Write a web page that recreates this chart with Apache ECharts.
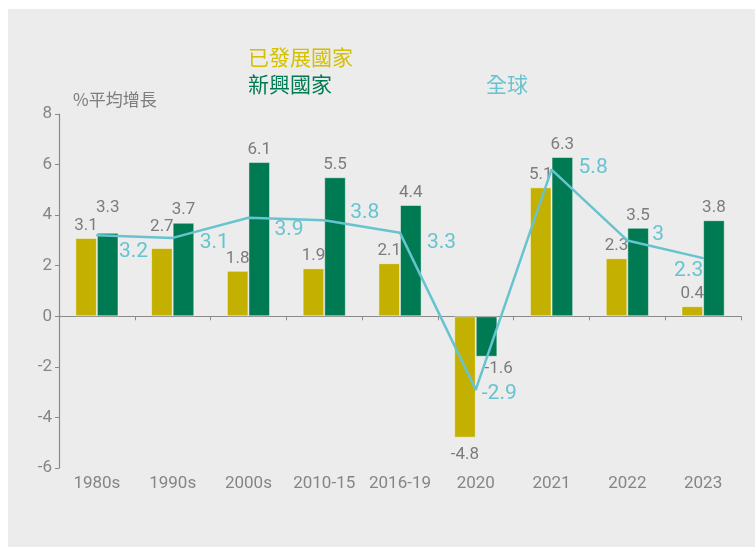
<!DOCTYPE html>
<html>
<head>
  <meta charset="utf-8">
  <title>經濟增長</title>
  <script src="https://cdn.jsdelivr.net/npm/echarts@6/dist/echarts.min.js"></script>
  <style>
    html, body { margin: 0; padding: 0; background: #fff; }
  </style>
</head>
<body>
  <div id="main" style="width: 755px;height:549px;"></div>
  <script type="text/javascript">
    // 數據
    var categories = ['1980s', '1990s', '2000s', '2010-15', '2016-19', '2020', '2021', '2022', '2023'];
    var developed = [3.1, 2.7, 1.8, 1.9, 2.1, -4.8, 5.1, 2.3, 0.4];
    var emerging = [3.3, 3.7, 6.1, 5.5, 4.4, -1.6, 6.3, 3.5, 3.8];
    var world = [3.2, 3.1, 3.9, 3.8, 3.3, -2.9, 5.8, 3, 2.3];

    // 標籤微調 (px)
    var devShift = [[0, 0], [0, -9], [0, 0], [0, 0], [0, 0], [0, 5], [0, 0], [0, 0], [0, 0]];
    var emgShift = [[0, -13], [0, 0], [0, 0], [0, 0], [0, 0], [12, 0], [0, 0], [0, 0], [0, 0]];
    var worldShift = [[21, 16], [26, 5], [25, 12], [25, -7], [26, 10], [5, 4], [26, -2], [24, -6], [-30, 13]];

    var cYellow = '#c4b000';
    var cGreen = '#007a53';
    var cTeal = '#67c4cf';
    var cGray = '#7c7c7c';
    var font = 'Roboto, "Helvetica Neue", Arial, "Noto Sans CJK TC", sans-serif';

    function barData(vals, shift) {
      return vals.map(function (v, i) {
        return {
          value: v,
          label: { position: v < 0 ? 'bottom' : 'top', offset: shift[i] }
        };
      });
    }

    var myChart = echarts.init(document.getElementById('main'));

    var option = {
      backgroundColor: '#fff',
      textStyle: { fontFamily: font },
      graphic: [
        {
          type: 'rect', z: -10,
          shape: { x: 8, y: 9, width: 747, height: 538 },
          style: { fill: '#ececec' }
        },
        {
          type: 'text', left: 248, top: 47,
          style: { text: '已發展國家', fill: '#d4c000', font: '21px "Noto Sans CJK TC"' }
        },
        {
          type: 'text', left: 248, top: 74,
          style: { text: '新興國家', fill: cGreen, font: '21px "Noto Sans CJK TC"' }
        },
        {
          type: 'text', left: 486, top: 74,
          style: { text: '全球', fill: cTeal, font: '21px "Noto Sans CJK TC"' }
        }
      ],
      grid: { left: 59, right: 14, top: 114, bottom: 81 },
      xAxis: [
        {
          type: 'category',
          data: categories,
          axisLine: { onZero: true, lineStyle: { color: '#8a8a8a', width: 1.2 } },
          axisTick: { show: true, length: 4, lineStyle: { color: '#8a8a8a' } },
          axisLabel: { show: false }
        },
        {
          type: 'category',
          data: categories,
          position: 'bottom',
          axisLine: { show: false, onZero: false },
          axisTick: { show: false },
          axisLabel: { color: '#858585', fontSize: 17, margin: 7, interval: 0, fontFamily: font }
        }
      ],
      yAxis: {
        type: 'value',
        min: -6, max: 8, interval: 2,
        name: '%平均增長',
        nameLocation: 'end',
        nameGap: 6,
        nameTextStyle: {
          color: cGray, fontSize: 17, align: 'left', padding: [0, 0, 0, 14],
          fontFamily: '"Noto Sans CJK TC", sans-serif'
        },
        axisLine: { show: true, lineStyle: { color: '#8a8a8a', width: 1.2 } },
        axisTick: { show: true, length: 4, lineStyle: { color: '#8a8a8a' } },
        axisLabel: { color: '#858585', fontSize: 17, margin: 7 },
        splitLine: { show: false }
      },
      series: [
        {
          name: '已發展國家',
          type: 'bar',
          xAxisIndex: 0,
          data: barData(developed, devShift),
          barGap: 0,
          barCategoryGap: '43%',
          itemStyle: { color: cYellow, borderColor: 'rgba(255,255,255,0.45)', borderWidth: 1 },
          label: { show: true, color: cGray, fontSize: 17, distance: 4 }
        },
        {
          name: '新興國家',
          type: 'bar',
          xAxisIndex: 0,
          data: barData(emerging, emgShift),
          barGap: 0,
          barCategoryGap: '43%',
          itemStyle: { color: cGreen, borderColor: 'rgba(255,255,255,0.45)', borderWidth: 1 },
          label: { show: true, color: cGray, fontSize: 17, distance: 4 }
        },
        {
          name: '全球',
          type: 'line',
          xAxisIndex: 0,
          data: world.map(function (v, i) {
            return { value: v, label: { offset: worldShift[i] } };
          }),
          symbol: 'circle',
          symbolSize: 2,
          itemStyle: { color: cTeal },
          lineStyle: { color: cTeal, width: 2.5 },
          label: { show: true, position: 'right', distance: 0, color: cTeal, fontSize: 21 },
          z: 5
        }
      ]
    };

    myChart.setOption(option);
  </script>
</body>
</html>
